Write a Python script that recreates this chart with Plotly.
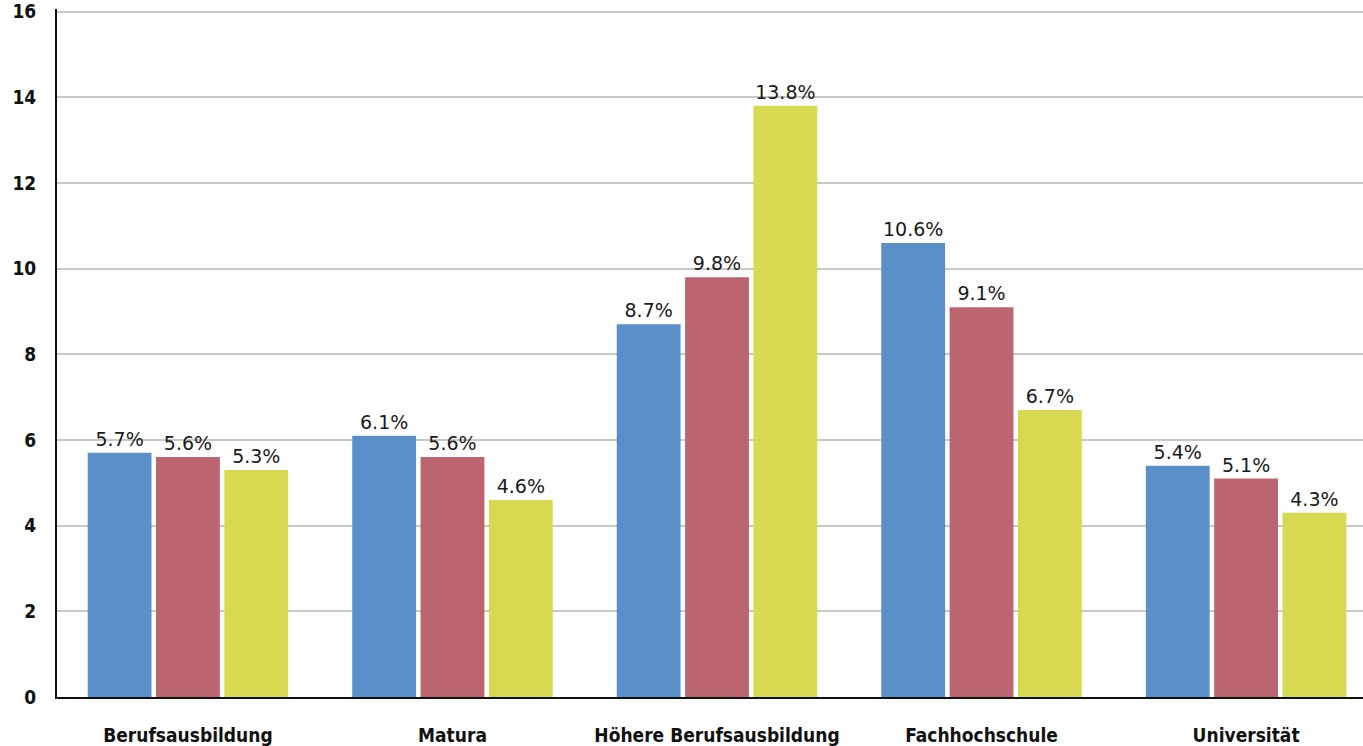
import plotly.graph_objects as go

categories = ["Berufsausbildung", "Matura", "Höhere Berufsausbildung", "Fachhochschule", "Universität"]
series_a = [5.7, 6.1, 8.7, 10.6, 5.4]
series_b = [5.6, 5.6, 9.8, 9.1, 5.1]
series_c = [5.3, 4.6, 13.8, 6.7, 4.3]
y_ticks = [0, 2, 4, 6, 8, 10, 12, 14, 16]

colors = ["#5B8FCA", "#BA6570", "#D7DA50"]
FONT = "DejaVu Sans Condensed, Liberation Sans Narrow, sans-serif"
label_font = dict(family="DejaVu Sans, sans-serif", size=19, color="#1a1a1a")
tick_font = dict(family=FONT, size=19, color="#111", weight="bold")

positions = list(range(len(categories)))

fig = go.Figure()
for vals, col, name in zip([series_a, series_b, series_c], colors, ["A", "B", "C"]):
    fig.add_trace(go.Bar(
        x=positions, y=vals, name=name,
        marker=dict(color=col, line=dict(width=0)),
        text=[f"{v:.1f}%" for v in vals],
        textposition="outside",
        textfont=label_font,
        cliponaxis=False,
    ))

fig.update_layout(
    width=1363, height=746,
    margin=dict(l=57, r=0, t=9, b=49),
    paper_bgcolor="white", plot_bgcolor="white",
    barmode="group", bargap=0.225, bargroupgap=0.066,
    showlegend=False,
    font=label_font,
)
fig.update_xaxes(
    range=[-0.495, 4.442],
    tickvals=positions, ticktext=categories,
    showline=True, linecolor="#111", linewidth=2,
    tickfont=tick_font, ticklabeloverflow="allow",
    ticklabelstandoff=20, showgrid=False, zeroline=False,
)
fig.update_yaxes(
    range=[0, 16.06], tickvals=y_ticks,
    showline=True, linecolor="#111", linewidth=2,
    showgrid=True, gridcolor="#c8c8c8", gridwidth=2,
    tickfont=tick_font, ticklabeloverflow="allow",
    ticklabelstandoff=15, zeroline=False,
)

fig.write_html("out.html")
